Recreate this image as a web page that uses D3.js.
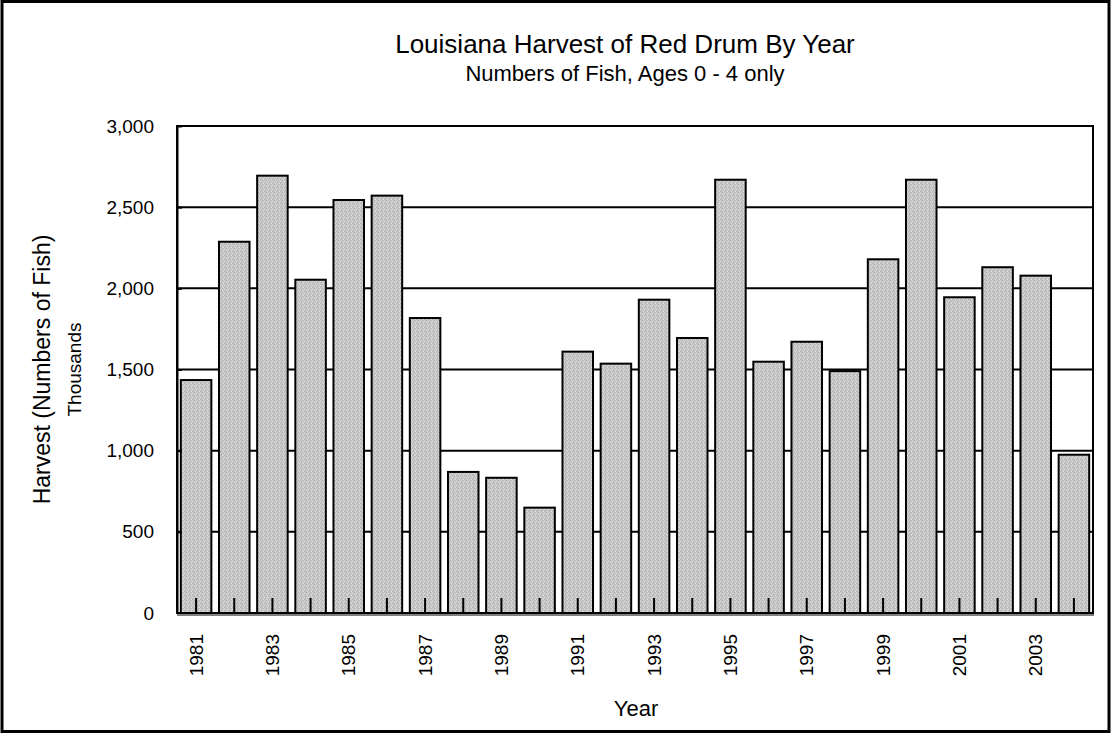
<!DOCTYPE html>
<html>
<head>
<meta charset="utf-8">
<script src="https://cdn.jsdelivr.net/npm/d3@7"></script>
<style>
  body { margin: 0; background: #fff; }
  text { font-family: "Liberation Sans", Arial, sans-serif; fill: #000; }
</style>
</head>
<body>
<div id="vis-container"></div>
<script>
// data (thousands of fish)
let years = [1981, 1982, 1983, 1984, 1985, 1986, 1987, 1988, 1989, 1990, 1991, 1992,
             1993, 1994, 1995, 1996, 1997, 1998, 1999, 2000, 2001, 2002, 2003, 2004];
let harvest = [1435, 2287, 2694, 2053, 2544, 2571, 1817, 869, 833, 649, 1610, 1536,
               1930, 1694, 2669, 1548, 1671, 1490, 2179, 2669, 1945, 2130, 2078, 975];
let yTicks = [0, 500, 1000, 1500, 2000, 2500, 3000];
let yearLabels = [1981, 1983, 1985, 1987, 1989, 1991, 1993, 1995, 1997, 1999, 2001, 2003];

let data = years.map((y, i) => ({year: y, value: harvest[i]}));

let W = 1111, H = 733;
let margin = {top: 126, right: 18, bottom: 120, left: 177};
let width = W - margin.left - margin.right;
let height = H - margin.top - margin.bottom;

let svg = d3.select("#vis-container")
  .append("svg")
  .attr("width", W)
  .attr("height", H);

// stippled grey fill like the original
let defs = svg.append("defs");
let pat = defs.append("pattern")
  .attr("id", "stipple")
  .attr("patternUnits", "userSpaceOnUse")
  .attr("width", 4).attr("height", 4);
pat.append("rect").attr("width", 4).attr("height", 4).attr("fill", "#c6c6c6");
[[0,0,"#aaaaaa"],[2,1,"#dedede"],[1,2,"#b2b2b2"],[3,3,"#dadada"],[3,1,"#b6b6b6"],[1,0,"#d6d6d6"]].forEach(p => {
  pat.append("rect").attr("x", p[0]).attr("y", p[1]).attr("width", 1).attr("height", 1).attr("fill", p[2]);
});

// outer border
svg.append("rect")
  .attr("x", 2).attr("y", 1.5)
  .attr("width", W - 4).attr("height", H - 3)
  .attr("fill", "none").attr("stroke", "#000").attr("stroke-width", 3);

let g = svg.append("g")
  .attr("transform", `translate(${margin.left}, ${margin.top})`);

//scales
let x = d3.scaleBand()
  .domain(years)
  .range([0, width])
  .paddingInner(0.2)
  .paddingOuter(0.1);

let y = d3.scaleLinear()
  .domain([0, 3000])
  .range([height, 0]);

// gridlines
g.selectAll("line.grid")
  .data(yTicks.filter(d => d > 0))
  .enter().append("line")
  .attr("class", "grid")
  .attr("x1", 0).attr("x2", width)
  .attr("y1", d => y(d)).attr("y2", d => y(d))
  .attr("stroke", "#000").attr("stroke-width", 2);

// bars
g.selectAll("rect.bar")
  .data(data)
  .enter().append("rect")
  .attr("class", "bar")
  .attr("x", d => x(d.year))
  .attr("y", d => y(d.value))
  .attr("width", x.bandwidth())
  .attr("height", d => height - y(d.value))
  .attr("fill", "url(#stipple)")
  .attr("stroke", "#000")
  .attr("stroke-width", 2);

// plot frame
g.append("rect")
  .attr("x", 0).attr("y", 0)
  .attr("width", width).attr("height", height)
  .attr("fill", "none").attr("stroke", "#000").attr("stroke-width", 2);

// y axis
let yAxis = d3.axisLeft(y)
  .tickValues(yTicks)
  .tickSizeInner(-5)
  .tickSizeOuter(0)
  .tickPadding(23)
  .tickFormat(d3.format(","));

let yAxisGroup = g.append("g").call(yAxis);
yAxisGroup.select(".domain").attr("stroke-width", 2);
yAxisGroup.selectAll(".tick line").attr("stroke-width", 2);
yAxisGroup.selectAll(".tick text")
  .attr("font-size", "19px")
  .attr("font-family", "Liberation Sans, Arial, sans-serif");

// x axis: ticks pointing up at every year, labels on odd years
let xAxis = d3.axisBottom(x)
  .tickSizeInner(-15)
  .tickSizeOuter(0)
  .tickFormat(d => yearLabels.includes(d) ? d : "");

let xAxisGroup = g.append("g")
  .attr("transform", `translate(0,${height})`)
  .call(xAxis);
xAxisGroup.select(".domain").attr("stroke-width", 2);
xAxisGroup.selectAll(".tick line").attr("stroke-width", 2);
xAxisGroup.selectAll(".tick text")
  .attr("font-size", "19px")
  .attr("font-family", "Liberation Sans, Arial, sans-serif")
  .attr("transform", "rotate(-90)")
  .attr("text-anchor", "end")
  .attr("x", -21)
  .attr("y", 0)
  .attr("dy", "0.35em");

// grey shadow under the category axis
g.append("line")
  .attr("x1", 0).attr("x2", width + 1)
  .attr("y1", height + 2).attr("y2", height + 2)
  .attr("stroke", "#808080").attr("stroke-width", 2);

// titles
svg.append("text")
  .attr("x", 625).attr("y", 53)
  .attr("text-anchor", "middle")
  .attr("font-size", "26px")
  .text("Louisiana Harvest of Red Drum By Year");

svg.append("text")
  .attr("x", 625).attr("y", 81)
  .attr("text-anchor", "middle")
  .attr("font-size", "22px")
  .text("Numbers of Fish, Ages 0 - 4 only");

// axis labels
svg.append("text")
  .attr("x", 636).attr("y", 716)
  .attr("text-anchor", "middle")
  .attr("font-size", "22px")
  .text("Year");

svg.append("text")
  .attr("transform", `translate(50, ${margin.top + height / 2}) rotate(-90)`)
  .attr("text-anchor", "middle")
  .attr("font-size", "23px")
  .text("Harvest (Numbers of Fish)");

svg.append("text")
  .attr("transform", `translate(81, ${margin.top + height / 2}) rotate(-90)`)
  .attr("text-anchor", "middle")
  .attr("font-size", "19px")
  .text("Thousands");
</script>
</body>
</html>
